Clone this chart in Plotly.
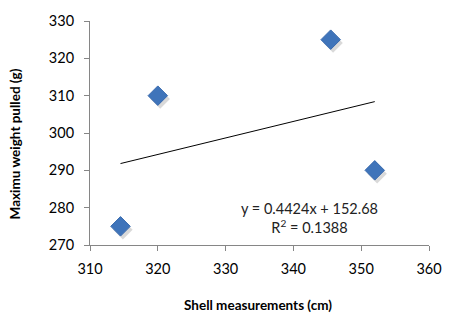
import plotly.graph_objects as go

shell_cm = [314.5, 320, 345.5, 352]
weight_g = [275, 310, 325, 290]
slope = 0.4424
intercept = 152.68
r2 = 0.1388
x_ticks = [310, 320, 330, 340, 350, 360]
y_ticks = [270, 280, 290, 300, 310, 320, 330]

trend_x = [min(shell_cm), max(shell_cm)]
trend_y = [slope * v + intercept for v in trend_x]

fig = go.Figure()
# shadow
fig.add_trace(go.Scatter(x=[v + 0.35 for v in shell_cm], y=[v - 0.9 for v in weight_g], mode="markers",
                         marker=dict(symbol="diamond", size=15, color="rgba(0,0,0,0.15)"),
                         hoverinfo="skip", showlegend=False))
fig.add_trace(go.Scatter(x=shell_cm, y=weight_g, mode="markers",
                         marker=dict(symbol="diamond", size=15, color="#3F74BA",
                                     line=dict(color="#386AAE", width=1)),
                         showlegend=False))
fig.add_trace(go.Scatter(x=trend_x, y=trend_y, mode="lines",
                         line=dict(color="black", width=1), showlegend=False))

fig.add_annotation(x=342.4, y=277.3, xref="x", yref="y",
                   text=f"y = {slope}x + {intercept}<br>R<sup>2</sup> = {r2}",
                   showarrow=False, font=dict(family="Lato", size=14.5, color="#222"),
                   align="center")

fig.add_annotation(x=0.495, y=-0.27, xref="paper", yref="paper", yanchor="middle",
                   text="<b>Shell measurements (cm)</b>", showarrow=False,
                   font=dict(family="Lato", size=13.5, color="black"))
fig.add_annotation(x=-0.25, y=0.45, xref="paper", yref="paper", textangle=-90,
                   text="<b>Maximu weight pulled (g)</b>", showarrow=False,
                   font=dict(family="Lato", size=13.5, color="black"))

axis_common = dict(showline=True, linecolor="#868686", linewidth=1, ticks="outside",
                   ticklen=5, tickcolor="#868686", showgrid=False, zeroline=False,
                   tickfont=dict(family="Lato", size=14.5, color="black"))
fig.update_xaxes(range=[310, 360], tickvals=x_ticks, ticklabelstandoff=6, **axis_common)
fig.update_yaxes(range=[270, 330], tickvals=y_ticks, ticklabelstandoff=7, **axis_common)

fig.update_layout(width=471, height=326, margin=dict(l=89.5, r=41.5, t=16, b=81),
                  plot_bgcolor="white", paper_bgcolor="white")
fig.write_html("out.html")
